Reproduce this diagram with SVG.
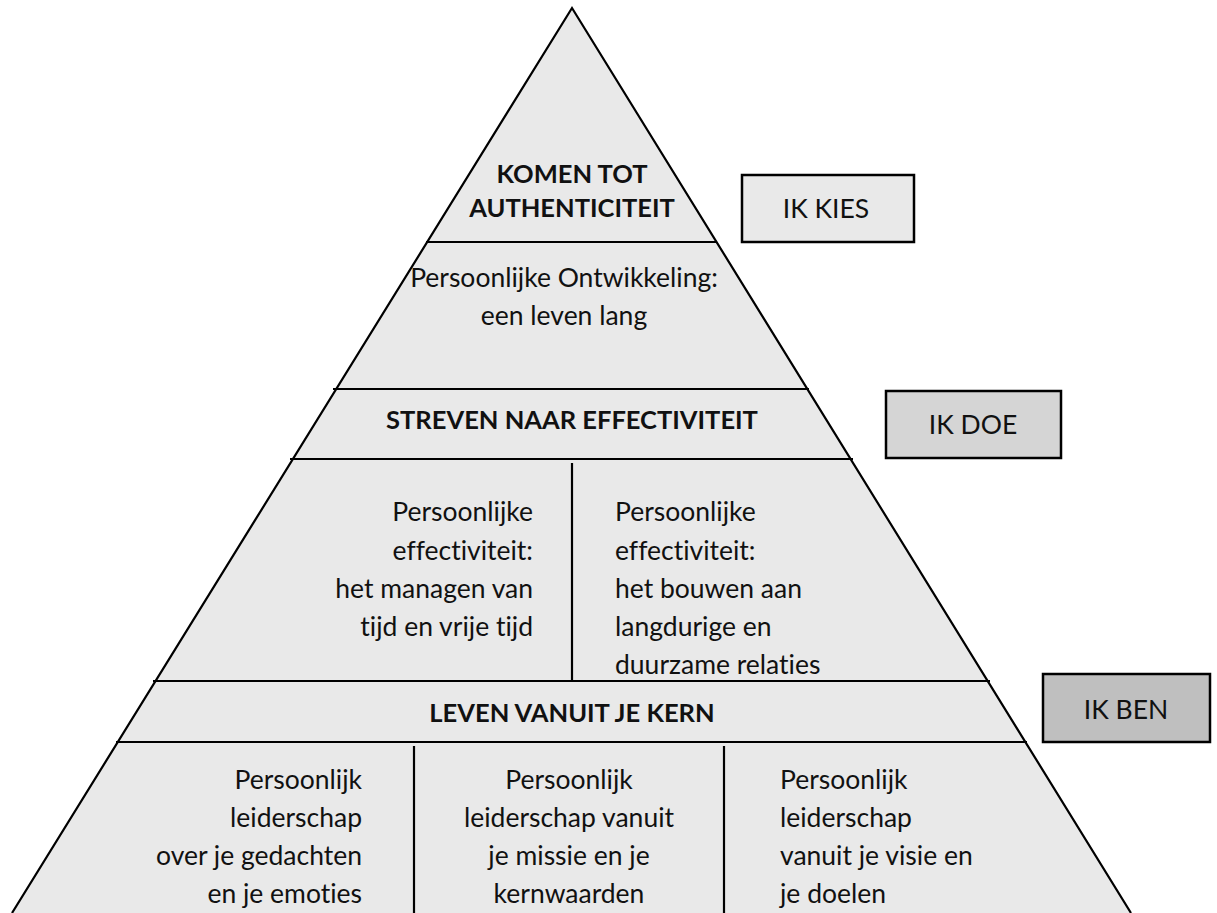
<svg xmlns="http://www.w3.org/2000/svg" width="1217" height="913" viewBox="0 0 1217 913">
<style>
.t{font-family:Lato,"Open Sans","DejaVu Sans",sans-serif;font-size:26.5px;fill:#111;font-variant-ligatures:none;font-feature-settings:"liga" 0,"clig" 0}
.b{font-weight:bold;font-size:25.5px}
.m{text-anchor:middle}
.e{text-anchor:end}
.ln{stroke:#000;stroke-width:2.2;fill:none}
.box{stroke:#000;stroke-width:2.5}
</style>
<rect width="1217" height="913" fill="#fff"/>
<g id="pyramid">
<polygon points="572,8 12,913 1131,913" fill="#e9e9e9" stroke="none"/>
<polyline class="ln" points="12,913 572,8 1131,913"/>
<line class="ln" x1="426" y1="242" x2="717" y2="242"/>
<line class="ln" x1="333" y1="389" x2="809" y2="389"/>
<line class="ln" x1="290" y1="459" x2="853" y2="459"/>
<line class="ln" x1="153" y1="681" x2="990" y2="681"/>
<line class="ln" x1="116" y1="742" x2="1027" y2="742"/>
<line class="ln" x1="572" y1="463" x2="572" y2="681"/>
<line class="ln" x1="414" y1="746" x2="414" y2="913"/>
<line class="ln" x1="724" y1="746" x2="724" y2="913"/>
</g>
<g id="n-authenticiteit">
<text class="t b m" x="572" y="183">KOMEN TOT</text>
<text class="t b m" x="572" y="217">AUTHENTICITEIT</text>
</g>
<g id="n-ontwikkeling">
<text class="t m" x="564" y="287">Persoonlijke Ontwikkeling:</text>
<text class="t m" x="564" y="325">een leven lang</text>
</g>
<g id="n-effectiviteit">
<text class="t b m" x="572" y="429">STREVEN NAAR EFFECTIVITEIT</text>
</g>
<g id="n-eff-tijd">
<text class="t e" x="533" y="521">Persoonlijke</text>
<text class="t e" x="533" y="560">effectiviteit:</text>
<text class="t e" x="533" y="598">het managen van</text>
<text class="t e" x="533" y="636">tijd en vrije tijd</text>
</g>
<g id="n-eff-relaties">
<text class="t" x="615" y="521">Persoonlijke</text>
<text class="t" x="615" y="560">effectiviteit:</text>
<text class="t" x="615" y="598">het bouwen aan</text>
<text class="t" x="615" y="636">langdurige en</text>
<text class="t" x="615" y="674">duurzame relaties</text>
</g>
<g id="n-kern">
<text class="t b m" x="572" y="722">LEVEN VANUIT JE KERN</text>
</g>
<g id="n-gedachten">
<text class="t e" x="362" y="789">Persoonlijk</text>
<text class="t e" x="362" y="827">leiderschap</text>
<text class="t e" x="362" y="865">over je gedachten</text>
<text class="t e" x="362" y="903">en je emoties</text>
</g>
<g id="n-missie">
<text class="t m" x="569" y="789">Persoonlijk</text>
<text class="t m" x="569" y="827">leiderschap vanuit</text>
<text class="t m" x="569" y="865">je missie en je</text>
<text class="t m" x="569" y="903">kernwaarden</text>
</g>
<g id="n-visie">
<text class="t" x="780" y="789">Persoonlijk</text>
<text class="t" x="780" y="827">leiderschap</text>
<text class="t" x="780" y="865">vanuit je visie en</text>
<text class="t" x="780" y="903">je doelen</text>
</g>
<g id="n-ik-kies">
<rect class="box" x="742" y="175" width="172" height="67" fill="#e9e9e9"/>
<text class="t m" x="826" y="218">IK KIES</text>
</g>
<g id="n-ik-doe">
<rect class="box" x="886" y="391" width="175" height="67" fill="#d5d5d5"/>
<text class="t m" x="973" y="434">IK DOE</text>
</g>
<g id="n-ik-ben">
<rect class="box" x="1043" y="674" width="167" height="68" fill="#bfbfbf"/>
<text class="t m" x="1126" y="719">IK BEN</text>
</g>
<g id="connectors"/>
</svg>
